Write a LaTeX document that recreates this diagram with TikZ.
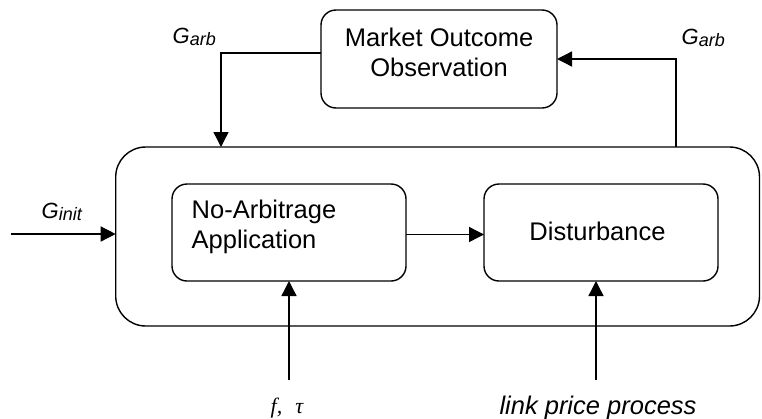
\documentclass[tikz,border=0pt]{standalone}
\usepackage{fontspec}
\setmainfont{Liberation Sans}
\newfontfamily\serifit{Liberation Serif}
\usetikzlibrary{arrows.meta}
\begin{document}
\begin{tikzpicture}[x=1pt,y=-1pt,
  line width=1.4pt,
  >={Triangle[length=15pt,width=15pt]},
  blk/.style={draw, rounded corners=15pt, inner sep=0pt, outer sep=0pt},
  bigblk/.style={draw, rounded corners=30pt, inner sep=0pt, outer sep=0pt},
  boxtext/.style={inner sep=0pt, font=\fontsize{25.5}{30}\selectfont},
  glabel/.style={inner sep=0pt, anchor=base west, font=\fontsize{22}{22}\selectfont\itshape},
  ilabel/.style={inner sep=0pt, anchor=base, font=\fontsize{25.5}{30}\selectfont\itshape}
]
\useasboundingbox (0,0) rectangle (762,418);

% blocks
\node[bigblk, minimum width=643.8pt, minimum height=179pt] (big) at (437.6,236.5) {};
\node[blk, minimum width=236pt, minimum height=98pt] (mkt) at (439,59) {};
\node[blk, minimum width=234pt, minimum height=97pt] (noarb) at (289,232.5) {};
\node[blk, minimum width=234pt, minimum height=97pt] (dist) at (601,232.5) {};

% block texts
\node[boxtext, align=center] (mkttext) at (439,52.7) {Market Outcome\\Observation};
\node[boxtext, align=left, anchor=west] (noarbtext) at (191,227.4) {No-Arbitrage\\Application};
\node[boxtext, anchor=base] (disttext) at (597.5,240) {Disturbance};

% connector end points
\coordinate (ginit) at (11,234);
\coordinate (lin) at (221,147);
\coordinate (rout) at (676,147);
\coordinate (fin) at (289,380);
\coordinate (lpin) at (596,380);

% connectors
\draw[->] (ginit) -- (ginit -| big.west);
\draw[->] ([yshift=6pt]mkt.west) -| (lin);
\draw[->] (rout) |- (mkt.east);
\draw[->] ([yshift=-2pt]noarb.east) -- ([yshift=-2pt]dist.west);
\draw[->] (fin) -- (fin |- noarb.south);
\draw[->] (lpin) -- (lpin |- dist.south);

% labels
\node[glabel] (lginit) at (41,218) {G\raisebox{-2pt}{\fontsize{18}{18}\selectfont init}};
\node[glabel] (lgarbl) at (172,43) {G\raisebox{-2pt}{\fontsize{18}{18}\selectfont arb}};
\node[glabel] (lgarbr) at (681,44) {G\raisebox{-2pt}{\fontsize{18}{18}\selectfont arb}};
\node[inner sep=0pt, anchor=base, font=\fontsize{22}{22}\selectfont\serifit\itshape] (lftau) at (287,413) {f,\hspace{0.6em}τ};
\node[ilabel] (llink) at (598,414) {link price process};
\end{tikzpicture}
\end{document}
